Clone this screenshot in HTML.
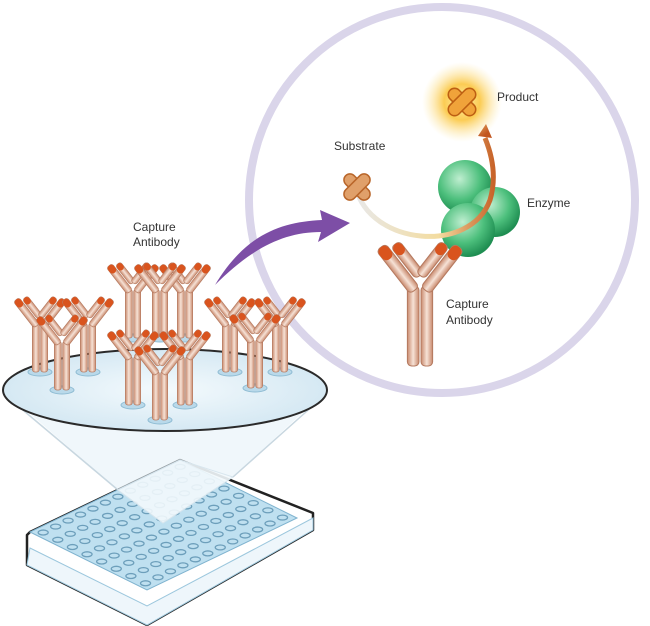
<!DOCTYPE html>
<html><head><meta charset="utf-8"><style>
html,body{margin:0;padding:0;background:#fff;}
svg{display:block}
text{font-family:"Liberation Sans",sans-serif;font-size:12px;fill:#333}
</style></head><body>
<svg width="650" height="626" viewBox="0 0 650 626" xmlns="http://www.w3.org/2000/svg">
<defs>
<linearGradient id="stem" x1="0" x2="1">
<stop offset="0" stop-color="#c98a6e"/><stop offset="0.5" stop-color="#f6e2d6"/><stop offset="1" stop-color="#c98a6e"/>
</linearGradient>
<radialGradient id="disk" cx="0.5" cy="0.5" r="0.6">
<stop offset="0" stop-color="#f4fafd"/><stop offset="1" stop-color="#cfe5f1"/>
</radialGradient>
<radialGradient id="green" cx="0.4" cy="0.35" r="0.65">
<stop offset="0" stop-color="#bfeed0"/><stop offset="0.6" stop-color="#4cbf7c"/><stop offset="1" stop-color="#1f8e52"/>
</radialGradient>
<radialGradient id="glow" cx="0.5" cy="0.5" r="0.5">
<stop offset="0" stop-color="#fff3b0"/><stop offset="0.45" stop-color="#fbc94a" stop-opacity="0.95"/><stop offset="1" stop-color="#fde9a8" stop-opacity="0"/>
</radialGradient>
<linearGradient id="arc" x1="0" x2="1">
<stop offset="0" stop-color="#e8e8e8"/><stop offset="0.6" stop-color="#f3dca0"/><stop offset="1" stop-color="#c8642a"/>
</linearGradient>
<g id="ab">
<rect x="-12" y="-76" width="11" height="76" rx="4" fill="url(#stem)" stroke="#b57a60" stroke-width="1"/>
<rect x="1" y="-76" width="11" height="76" rx="4" fill="url(#stem)" stroke="#b57a60" stroke-width="1"/>
<g transform="translate(-6,-74) rotate(-38)">
<rect x="-6" y="-50" width="11" height="52" rx="4" fill="url(#stem)" stroke="#b57a60"/>
<rect x="-6" y="-50" width="11" height="14" rx="5" fill="#d9541e"/>
<rect x="7" y="-44" width="10" height="38" rx="4" fill="url(#stem)" stroke="#b57a60"/>
<rect x="7" y="-44" width="10" height="12" rx="5" fill="#d9541e"/>
</g>
<g transform="translate(6,-74) rotate(38)">
<rect x="-5" y="-50" width="11" height="52" rx="4" fill="url(#stem)" stroke="#b57a60"/>
<rect x="-5" y="-50" width="11" height="14" rx="5" fill="#d9541e"/>
<rect x="-17" y="-44" width="10" height="38" rx="4" fill="url(#stem)" stroke="#b57a60"/>
<rect x="-17" y="-44" width="10" height="12" rx="5" fill="#d9541e"/>
</g>
</g>
<g id="sab">
<ellipse cx="0" cy="0" rx="12" ry="4" fill="#b9d9ea" stroke="#8fbcd3"/>
<use href="#ab" transform="scale(0.64)"/>
</g>
<g id="cross">
<rect x="-16" y="-6" width="32" height="12" rx="6" transform="rotate(45)"/>
<rect x="-16" y="-6" width="32" height="12" rx="6" transform="rotate(-45)"/>
</g>
</defs>

<circle cx="442" cy="200" r="193" fill="#fff" stroke="#dad5ea" stroke-width="8"/>

<!-- plate -->
<polygon points="27,535 27,565 147,625 313,530 313,513 180,460 30,532" fill="#fff" stroke="#222" stroke-width="2.5" stroke-linejoin="round"/>
<polygon points="30,548 147,606 313,518 313,530 147,625 27,565" fill="#eef6fb" stroke="#9cc7dd"/>
<polygon points="30,532 147,590 297,518 180,460" fill="#bfe0f0" stroke="#7fb3cf"/>
<g transform="matrix(117,58,150,-72,30,532)" fill="none" stroke="#6d9fbb" stroke-width="1.3">
<g id="row">
<ellipse cx="0.06" cy="0.041" rx="0.03" ry="0.024" vector-effect="non-scaling-stroke"/>
<ellipse cx="0.06" cy="0.124" rx="0.03" ry="0.024" vector-effect="non-scaling-stroke"/>
<ellipse cx="0.06" cy="0.207" rx="0.03" ry="0.024" vector-effect="non-scaling-stroke"/>
<ellipse cx="0.06" cy="0.29" rx="0.03" ry="0.024" vector-effect="non-scaling-stroke"/>
<ellipse cx="0.06" cy="0.373" rx="0.03" ry="0.024" vector-effect="non-scaling-stroke"/>
<ellipse cx="0.06" cy="0.456" rx="0.03" ry="0.024" vector-effect="non-scaling-stroke"/>
<ellipse cx="0.06" cy="0.539" rx="0.03" ry="0.024" vector-effect="non-scaling-stroke"/>
<ellipse cx="0.06" cy="0.622" rx="0.03" ry="0.024" vector-effect="non-scaling-stroke"/>
<ellipse cx="0.06" cy="0.705" rx="0.03" ry="0.024" vector-effect="non-scaling-stroke"/>
<ellipse cx="0.06" cy="0.788" rx="0.03" ry="0.024" vector-effect="non-scaling-stroke"/>
<ellipse cx="0.06" cy="0.871" rx="0.03" ry="0.024" vector-effect="non-scaling-stroke"/>
<ellipse cx="0.06" cy="0.954" rx="0.03" ry="0.024" vector-effect="non-scaling-stroke"/>
</g>
<use href="#row" transform="translate(0.125,0)"/>
<use href="#row" transform="translate(0.25,0)"/>
<use href="#row" transform="translate(0.375,0)"/>
<use href="#row" transform="translate(0.5,0)"/>
<use href="#row" transform="translate(0.625,0)"/>
<use href="#row" transform="translate(0.75,0)"/>
<use href="#row" transform="translate(0.875,0)"/>
</g>

<!-- cone -->
<polygon points="5,392 325,392 233,477 163,523 118,490" fill="#e6f2f8" fill-opacity="0.6"/>
<polygon points="118,490 180,460 233,477 163,523" fill="#f4f9fc" fill-opacity="0.75" stroke="#d8e6ee"/>
<line x1="5" y1="395" x2="118" y2="490" stroke="#c8d7e0" stroke-width="1.5"/>
<line x1="325" y1="395" x2="233" y2="477" stroke="#c8d7e0" stroke-width="1.5"/>

<ellipse cx="165" cy="390" rx="162" ry="41" fill="url(#disk)" stroke="#2a2a2a" stroke-width="2"/>

<use href="#sab" x="40" y="372"/>
<use href="#sab" x="88" y="372"/>
<use href="#sab" x="133" y="338"/>
<use href="#sab" x="185" y="338"/>
<use href="#sab" x="230" y="372"/>
<use href="#sab" x="280" y="372"/>
<use href="#sab" x="62" y="390"/>
<use href="#sab" x="160" y="338"/>
<use href="#sab" x="255" y="388"/>
<use href="#sab" x="133" y="405"/>
<use href="#sab" x="185" y="405"/>
<use href="#sab" x="160" y="420"/>

<text x="133" y="231">Capture</text>
<text x="133" y="246">Antibody</text>

<path d="M215,285 C245,235 280,222 322,220 L320,210 L350,223 L318,242 L321,232 C282,232 250,250 215,285Z" fill="#7d4ea6"/>

<circle cx="465" cy="187" r="27" fill="url(#green)"/>
<circle cx="495" cy="212" r="25" fill="url(#green)"/>
<circle cx="468" cy="230" r="27" fill="url(#green)"/>

<path d="M356,188 C370,245 470,255 490,200 C496,180 494,160 485,138" fill="none" stroke="url(#arc)" stroke-width="5"/>
<path d="M478,136 L486,124 L492,138Z" fill="#c2561f"/>

<use href="#cross" transform="translate(357,187)" fill="#e0a06a" stroke="#b9662a" stroke-width="1.5"/>
<circle cx="462" cy="102" r="40" fill="url(#glow)"/>
<use href="#cross" transform="translate(462,102) scale(1.05)" fill="#f0a33a" stroke="#bd5f12" stroke-width="1.5"/>

<use href="#ab" transform="translate(420,366) scale(1.05)"/>

<text x="334" y="150">Substrate</text>
<text x="497" y="101">Product</text>
<text x="527" y="207">Enzyme</text>
<text x="446" y="308">Capture</text>
<text x="446" y="324">Antibody</text>
</svg>
</body></html>
